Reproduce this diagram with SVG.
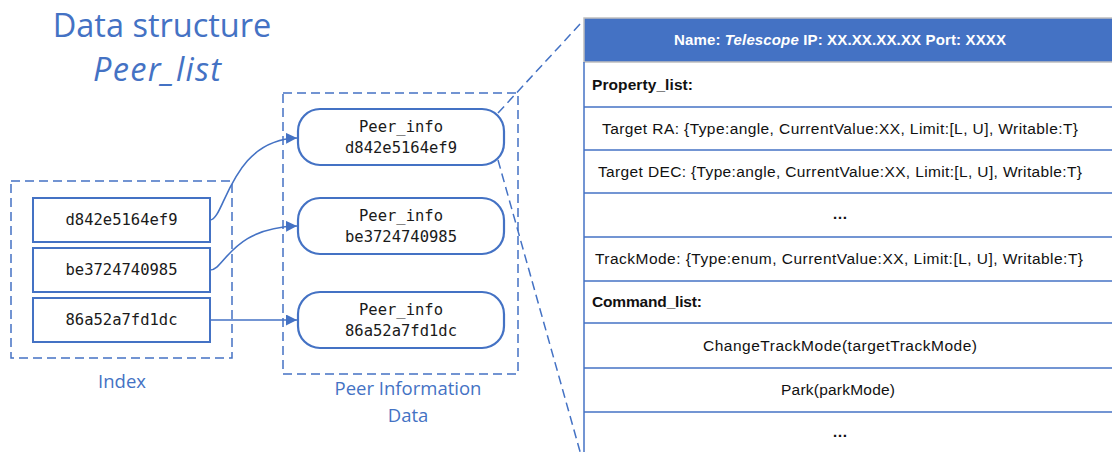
<svg xmlns="http://www.w3.org/2000/svg" width="1112" height="452" viewBox="0 0 1112 452">
<style>
.title{font-family:"Open Sans","Noto Sans",sans-serif;font-size:32.5px;fill:#4472C4;text-anchor:middle}
.lbl{font-family:"Open Sans","Noto Sans",sans-serif;font-size:18.5px;fill:#4472C4;text-anchor:middle}
.dash{fill:none;stroke:#4472C4;stroke-width:1.5;stroke-dasharray:9,5}
.idx{fill:#fff;stroke:#4472C4;stroke-width:2}
.peer{fill:#fff;stroke:#4472C4;stroke-width:2.2}
.mono{font-family:"DejaVu Sans Mono","Liberation Mono",monospace;font-size:15.5px;fill:#1a1a1a;text-anchor:middle}
.conn{fill:none;stroke:#4472C4;stroke-width:1.6}
.tline{stroke:#4472C4;stroke-width:1.5}
.tt{font-family:"Liberation Sans","Open Sans",sans-serif;font-size:15.5px;fill:#111;text-anchor:middle}
.tb{font-family:"Liberation Sans","Open Sans",sans-serif;font-size:15.5px;font-weight:bold;fill:#111}
.th{font-family:"Liberation Sans","Open Sans",sans-serif;font-size:15px;font-weight:bold;fill:#fff;text-anchor:middle}
</style>
<defs>
<marker id="arr" viewBox="0 0 10 10" refX="10" refY="5" markerWidth="11" markerHeight="11" markerUnits="userSpaceOnUse" orient="auto">
<path d="M0,0 L10,5 L0,10 z" fill="#4472C4"/>
</marker>
</defs>

<g id="title">
<text class="title" x="162" y="37">Data structure</text>
<text class="title" x="157" y="81" font-style="italic" textLength="128">Peer_list</text>
</g>

<g id="index">
<rect class="dash" x="11" y="181" width="221" height="177"/>
<text class="lbl" x="122" y="388">Index</text>
</g>
<g id="idx1"><rect class="idx" x="33" y="198" width="177" height="44"/><text class="mono" x="121.5" y="225">d842e5164ef9</text></g>
<g id="idx2"><rect class="idx" x="33" y="248" width="177" height="44"/><text class="mono" x="121.5" y="275">be3724740985</text></g>
<g id="idx3"><rect class="idx" x="33" y="298" width="177" height="44"/><text class="mono" x="121.5" y="325">86a52a7fd1dc</text></g>

<g id="peerdata">
<rect class="dash" x="283" y="93" width="235" height="281"/>
<text class="lbl" x="408" y="395">Peer Information</text>
<text class="lbl" x="408" y="422">Data</text>
</g>
<g id="peer1"><rect class="peer" x="298" y="109" width="206" height="56" rx="22"/><text class="mono" x="401" y="132">Peer_info</text><text class="mono" x="401" y="153">d842e5164ef9</text></g>
<g id="peer2"><rect class="peer" x="298" y="198" width="206" height="56" rx="22"/><text class="mono" x="401" y="221">Peer_info</text><text class="mono" x="401" y="242">be3724740985</text></g>
<g id="peer3"><rect class="peer" x="298" y="292" width="206" height="56" rx="22"/><text class="mono" x="401" y="315">Peer_info</text><text class="mono" x="401" y="336">86a52a7fd1dc</text></g>

<g id="connectors">
<path class="conn" d="M210,220 C225,220 230,140 297,138" marker-end="url(#arr)"/>
<path class="conn" d="M210,270 C225,270 230,228 297,226" marker-end="url(#arr)"/>
<path class="conn" d="M210,320 L297,320" marker-end="url(#arr)"/>
<path class="dash" d="M498,113 L581,23"/>
<path class="dash" d="M498,160 L581,455"/>
</g>

<g id="table">
<rect x="584" y="18" width="540" height="44" fill="#4472C4" stroke="#bfbfbf" stroke-width="1.5"/>
<text class="th" x="840" y="45" textLength="332">Name: <tspan font-style="italic">Telescope</tspan> IP: XX.XX.XX.XX Port: XXXX</text>
<line class="tline" x1="584" y1="62" x2="584" y2="452"/>
<line class="tline" x1="584" y1="107" x2="1112" y2="107"/>
<line class="tline" x1="584" y1="150" x2="1112" y2="150"/>
<line class="tline" x1="584" y1="193" x2="1112" y2="193"/>
<line class="tline" x1="584" y1="237" x2="1112" y2="237"/>
<line class="tline" x1="584" y1="281" x2="1112" y2="281"/>
<line class="tline" x1="584" y1="323" x2="1112" y2="323"/>
<line class="tline" x1="584" y1="368" x2="1112" y2="368"/>
<line class="tline" x1="584" y1="412" x2="1112" y2="412"/>
<text class="tb" x="592" y="90" textLength="101">Property_list:</text>
<text class="tt" x="840" y="134" textLength="476">Target RA: {Type:angle, CurrentValue:XX, Limit:[L, U], Writable:T}</text>
<text class="tt" x="840" y="177" textLength="484">Target DEC: {Type:angle, CurrentValue:XX, Limit:[L, U], Writable:T}</text>
<text class="tt" x="840" y="219" font-weight="bold">…</text>
<text class="tt" x="839" y="264" textLength="488">TrackMode: {Type:enum, CurrentValue:XX, Limit:[L, U], Writable:T}</text>
<text class="tb" x="592" y="307" textLength="110">Command_list:</text>
<text class="tt" x="840" y="351" textLength="274">ChangeTrackMode(targetTrackMode)</text>
<text class="tt" x="838" y="395" textLength="114">Park(parkMode)</text>
<text class="tt" x="840" y="437" font-weight="bold">…</text>
</g>
</svg>
